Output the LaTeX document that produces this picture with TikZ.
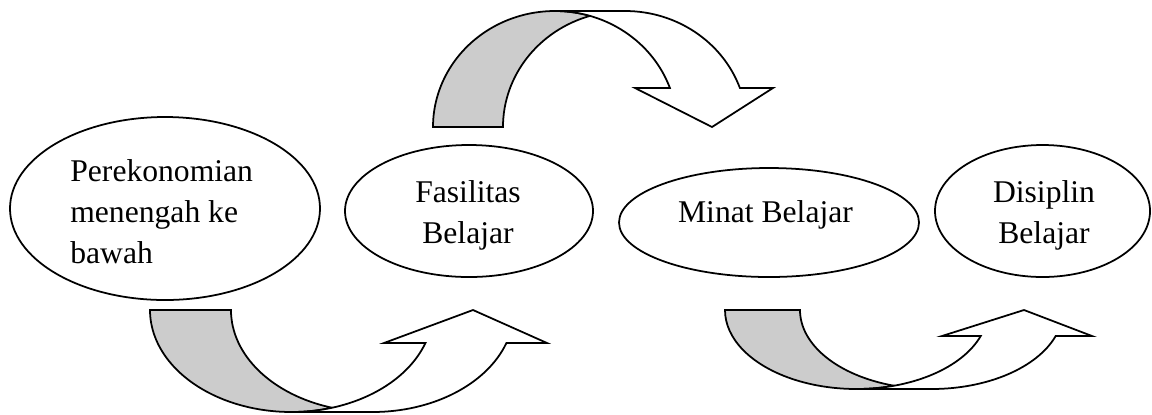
\documentclass[tikz,border=0pt]{standalone}
\usepackage{fontspec}
\setmainfont{Liberation Serif}
\usepackage{tikz}
\usetikzlibrary{arrows.meta, positioning}
\definecolor{bandgray}{gray}{0.8}
\tikzset{
  outline/.style={draw=black, line width=1pt, line join=miter},
  back band/.style={outline, fill=bandgray},
  front band/.style={outline, fill=white},
  word/.style={inner sep=0pt, font=\fontsize{18}{23.3}\selectfont},
  top arc/.style={x radius=122, y radius=116},
  left arc/.style={x radius=141.5, y radius=102},
  right arc/.style={x radius=131.5, y radius=79},
}

\begin{document}
\begin{tikzpicture}[x=0.02cm, y=-0.02cm]
\useasboundingbox (0,0) rectangle (1152,414);

% ellipses and their texts
\draw[outline] (165,208.5) ellipse [x radius=155, y radius=91.5];
\node[word, anchor=west, align=left] (ekonomi) at (70,211.7) {Perekonomian\\menengah ke\\bawah};

\draw[outline] (469,211) ellipse [x radius=124, y radius=66];
\node[word, align=center] (fasilitas) at (468,215.6) {Fasilitas\\Belajar};

\draw[outline] (769,222.5) ellipse [x radius=150, y radius=54.5];
\node[word] (minat) at (765.5,214.7) {Minat Belajar};

\draw[outline] (1042.5,211) ellipse [x radius=107.5, y radius=66];
\node[word, align=center] (disiplin) at (1044,215.2) {Disiplin\\Belajar};

% curved arrow over the top
\draw[back band] (433,127) arc[top arc, start angle=180, end angle=286.67]
  arc[top arc, start angle=253.33, end angle=180] -- cycle;
\draw[front band] (555,11) -- (625,11) arc[top arc, start angle=270, end angle=340.35]
  -- (773,88) -- (712,127) -- (635,88) -- (669.9,88)
  arc[top arc, start angle=340.35, end angle=270] -- cycle;

% curved arrow below, left
\draw[back band] (150,310) arc[left arc, start angle=180, end angle=73.37]
  arc[left arc, start angle=106.63, end angle=180] -- cycle;
\draw[front band] (291.5,412) -- (372.5,412) arc[left arc, start angle=90, end angle=18.87]
  -- (547,343) -- (473,310) -- (384,343) -- (425.4,343)
  arc[left arc, start angle=18.87, end angle=90] -- cycle;

% curved arrow below, right
\draw[back band] (725,310) arc[right arc, start angle=180, end angle=73.43]
  arc[right arc, start angle=106.57, end angle=180] -- cycle;
\draw[front band] (856.5,389) -- (931.5,389) arc[right arc, start angle=90, end angle=19.22]
  -- (1092,336) -- (1024,310) -- (942,336) -- (980.7,336)
  arc[right arc, start angle=19.22, end angle=90] -- cycle;
\end{tikzpicture}
\end{document}
